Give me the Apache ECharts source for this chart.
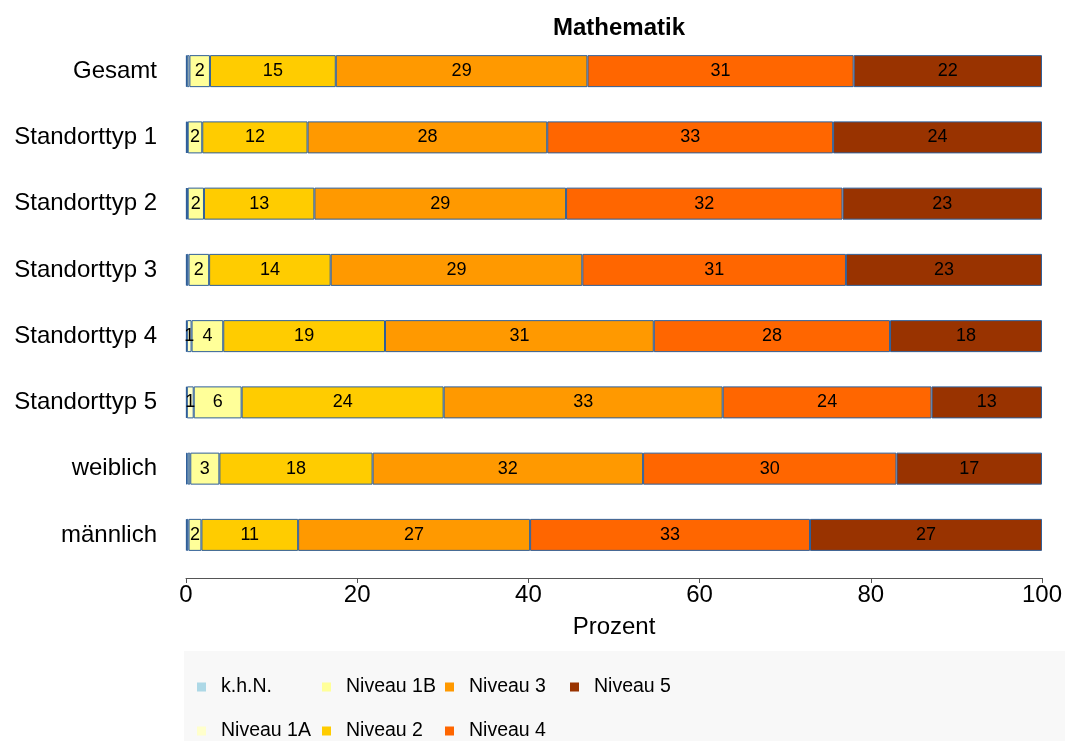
<!DOCTYPE html>
<html>
<head>
<meta charset="utf-8">
<script src="https://cdn.jsdelivr.net/npm/echarts@6/dist/echarts.min.js"></script>
<style>
  html, body { margin: 0; padding: 0; background: #fff; }
  #chart { width: 1065px; height: 741px; }
</style>
</head>
<body>
<div id="chart"></div>
<script>
// categories, top to bottom
const categories = ['Gesamt', 'Standorttyp 1', 'Standorttyp 2', 'Standorttyp 3',
    'Standorttyp 4', 'Standorttyp 5', 'weiblich', 'männlich'];

const levelNames = ['k.h.N.', 'Niveau 1A', 'Niveau 1B', 'Niveau 2', 'Niveau 3', 'Niveau 4', 'Niveau 5'];
const levelColors = ['#add8e6', '#ffffcc', '#ffff99', '#ffcc00', '#ff9900', '#ff6600', '#993300'];

// percent per level, one value per category
const khN      = [0.1, 0.1, 0.1, 0.1, 0.1, 0.1, 0.2, 0.1];
const niveau1A = [0.3, 0.1, 0.1, 0.2, 0.55, 0.8, 0.3, 0.2];
const niveau1B = [2.4, 1.7, 1.9, 2.4, 3.7, 5.6, 3.4, 1.5];
const niveau2  = [14.7, 12.3, 12.9, 14.2, 18.9, 23.6, 17.9, 11.3];
const niveau3  = [29.4, 28.0, 29.4, 29.4, 31.4, 32.6, 31.6, 27.1];
const niveau4  = [31.1, 33.4, 32.3, 30.8, 27.6, 24.4, 29.6, 32.7];
const niveau5  = [22.0, 24.4, 23.3, 22.9, 17.75, 12.9, 17.0, 27.1];

const xTicks = [0, 20, 40, 60, 80, 100];

const levelData = [khN, niveau1A, niveau1B, niveau2, niveau3, niveau4, niveau5];

const chart = echarts.init(document.getElementById('chart'));

const series = levelNames.map(function (name, i) {
    return {
        name: name,
        type: 'bar',
        stack: 'total',
        barWidth: 32,
        itemStyle: {
            color: levelColors[i],
            borderColor: '#2f5f99',
            borderWidth: 1
        },
        label: {
            show: true,
            position: 'inside',
            color: '#000',
            fontSize: 18,
            fontFamily: 'Liberation Sans',
            formatter: function (p) {
                const r = Math.round(p.value);
                return r >= 1 ? String(r) : '';
            }
        },
        emphasis: { disabled: true },
        data: levelData[i]
    };
});

// legend is filled column by column, like the original
const legendCols = [
    { left: 197, data: ['k.h.N.', 'Niveau 1A'] },
    { left: 322, data: ['Niveau 1B', 'Niveau 2'] },
    { left: 445, data: ['Niveau 3', 'Niveau 4'] },
    { left: 570, data: ['Niveau 5'] }
];

const legends = legendCols.map(function (c) {
    return {
        orient: 'vertical',
        left: c.left,
        top: 677,
        padding: 0,
        itemGap: 24,
        itemWidth: 9,
        itemHeight: 9,
        icon: 'rect',
        selectedMode: false,
        itemStyle: { borderWidth: 0 },
        textStyle: {
            fontSize: 19.5,
            lineHeight: 19,
            color: '#000',
            fontFamily: 'Liberation Sans',
            padding: [0, 0, 0, 10]
        },
        data: c.data
    };
});

const options = {
    animation: false,
    backgroundColor: '#fff',
    title: {
        text: 'Mathematik',
        left: 614,
        top: 11,
        textAlign: 'center',
        textStyle: {
            fontSize: 24,
            fontWeight: 'bold',
            color: '#000',
            fontFamily: 'Liberation Sans'
        }
    },
    graphic: [{
        type: 'rect',
        z: -1,
        shape: { x: 184, y: 651, width: 881, height: 90 },
        style: { fill: '#f8f8f8' }
    }],
    legend: legends,
    grid: {
        left: 186,
        right: 22,
        top: 38,
        bottom: 173
    },
    xAxis: {
        type: 'value',
        min: 0,
        max: 100,
        interval: 20,
        offset: 10,
        name: 'Prozent',
        nameLocation: 'middle',
        nameGap: 37,
        nameTextStyle: { fontSize: 24, color: '#000', fontFamily: 'Liberation Sans' },
        axisLine: { show: true, lineStyle: { color: '#555', width: 1 } },
        axisTick: { show: true, length: 5, lineStyle: { color: '#555' } },
        axisLabel: {
            fontSize: 24,
            color: '#000',
            margin: 5,
            fontFamily: 'Liberation Sans',
            formatter: function (v) { return xTicks.indexOf(v) >= 0 ? String(v) : ''; }
        },
        splitLine: { show: false }
    },
    yAxis: {
        type: 'category',
        inverse: true,
        data: categories,
        axisLine: { show: false },
        axisTick: { show: false },
        axisLabel: {
            fontSize: 24,
            color: '#000',
            margin: 29,
            fontFamily: 'Liberation Sans'
        }
    },
    series: series
};

chart.setOption(options);
</script>
</body>
</html>
